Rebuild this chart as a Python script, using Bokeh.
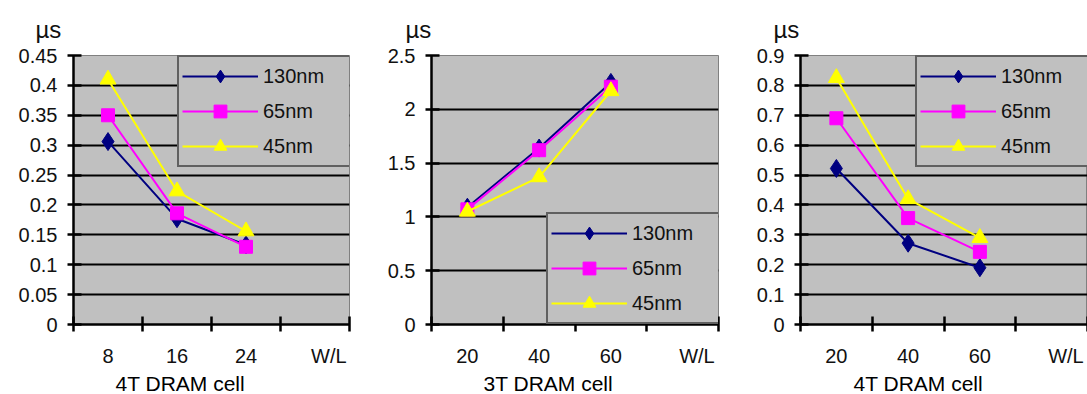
from bokeh.plotting import figure
from bokeh.models import Range1d, FixedTicker, Legend, LegendItem, Title
from bokeh.layouts import row
from bokeh.embed import file_html
from bokeh.resources import INLINE

# ---------------- data ----------------
SERIES = ["130nm", "65nm", "45nm"]

P1_CATS = ["8", "16", "24"]
P1_130 = [0.306, 0.177, 0.133]
P1_65 = [0.350, 0.186, 0.130]
P1_45 = [0.410, 0.223, 0.156]
P1_YTICKS = [0, 0.05, 0.1, 0.15, 0.2, 0.25, 0.3, 0.35, 0.4, 0.45]
P1_YLABELS = ["0", "0.05", "0.1", "0.15", "0.2", "0.25", "0.3", "0.35", "0.4", "0.45"]
P1_TITLE = "4T DRAM cell"

P2_CATS = ["20", "40", "60"]
P2_130 = [1.09, 1.64, 2.25]
P2_65 = [1.07, 1.62, 2.21]
P2_45 = [1.05, 1.37, 2.17]
P2_YTICKS = [0, 0.5, 1, 1.5, 2, 2.5]
P2_YLABELS = ["0", "0.5", "1", "1.5", "2", "2.5"]
P2_TITLE = "3T DRAM cell"

P3_CATS = ["20", "40", "60"]
P3_130 = [0.522, 0.272, 0.190]
P3_65 = [0.690, 0.356, 0.243]
P3_45 = [0.825, 0.420, 0.290]
P3_YTICKS = [0, 0.1, 0.2, 0.3, 0.4, 0.5, 0.6, 0.7, 0.8, 0.9]
P3_YLABELS = ["0", "0.1", "0.2", "0.3", "0.4", "0.5", "0.6", "0.7", "0.8", "0.9"]
P3_TITLE = "4T DRAM cell"

UNIT = "µs"
XNAME = "W/L"

# ---------------- styles ----------------
COLORS = ["#000080", "#FF00FF", "#FFFF00"]
MARKERS = ["diamond", "square", "triangle"]
MSIZES = [18, 13, 16]
FONT = "Liberation Sans"
BG = "#C0C0C0"
TXT = "#111111"


def make_panel(cats, series_vals, yticks, ylabels, title, width, left, right,
               legend_xy, legend_w, unit_dx, title_dx):
    n_slots = len(cats) + 1
    ymax = yticks[-1]
    p = figure(width=width, height=394, output_backend="svg", toolbar_location=None,
               x_range=Range1d(0, n_slots), y_range=Range1d(0, ymax),
               min_border_left=left, min_border_right=right,
               min_border_top=54, min_border_bottom=68)
    p.background_fill_color = BG
    p.border_fill_color = "white"
    p.outline_line_color = "#808080"
    p.outline_line_width = 1

    xs = [i + 0.5 for i in range(len(cats))]
    name_x = n_slots - 0.3

    # x axis: category labels at slot centres, tick marks at slot boundaries
    xa = p.xaxis[0]
    xa.ticker = FixedTicker(ticks=xs + [name_x], minor_ticks=list(range(n_slots + 1)))
    overrides = {x: c for x, c in zip(xs, cats)}
    overrides[name_x] = XNAME
    xa.major_label_overrides = overrides
    xa.major_tick_line_color = None
    xa.major_tick_in = 0
    xa.major_tick_out = 0
    xa.minor_tick_line_color = "black"
    xa.minor_tick_line_width = 2.5
    xa.minor_tick_in = 8
    xa.minor_tick_out = 7
    xa.axis_line_color = "black"
    xa.axis_line_width = 2.5
    xa.major_label_standoff = 13
    xa.major_label_text_font = FONT
    xa.major_label_text_font_size = "20px"
    xa.major_label_text_color = TXT

    ya = p.yaxis[0]
    ya.ticker = FixedTicker(ticks=yticks, minor_ticks=[])
    ya.major_label_overrides = {t: l for t, l in zip(yticks, ylabels)}
    ya.major_tick_line_color = "black"
    ya.major_tick_line_width = 2.5
    ya.major_tick_in = 8
    ya.major_tick_out = 6
    ya.minor_tick_line_color = None
    ya.axis_line_color = "black"
    ya.axis_line_width = 2.5
    ya.major_label_standoff = 10
    ya.major_label_text_font = FONT
    ya.major_label_text_font_size = "20px"
    ya.major_label_text_color = TXT

    p.xgrid.grid_line_color = None
    p.ygrid.ticker = FixedTicker(ticks=yticks[1:-1])
    p.ygrid.grid_line_color = "black"
    p.ygrid.grid_line_width = 2

    items = []
    for name, vals, col, mk, ms in zip(SERIES, series_vals, COLORS, MARKERS, MSIZES):
        lr = p.line(xs, vals, line_color=col, line_width=2)
        mr = p.scatter(xs, vals, marker=mk, size=ms, fill_color=col, line_color=col)
        items.append(LegendItem(label=name, renderers=[lr, mr]))

    leg = Legend(items=items, location=legend_xy, orientation="vertical",
                 padding=3, spacing=3, glyph_height=32, glyph_width=76,
                 label_standoff=5, label_width=legend_w, label_height=32,
                 margin=0,
                 background_fill_color=BG, background_fill_alpha=1.0,
                 border_line_color="black", border_line_width=2,
                 label_text_font=FONT, label_text_font_size="20px",
                 label_text_color=TXT)
    p.add_layout(leg, "center")

    p.add_layout(Title(text=UNIT, align="left", offset=unit_dx, standoff=0, padding=13,
                       text_font=FONT, text_font_size="24px", text_font_style="normal",
                       text_color=TXT), "above")
    p.add_layout(Title(text=title, align="left", offset=title_dx, standoff=0,
                       text_font=FONT, text_font_size="21px", text_font_style="normal",
                       text_color="black"), "below")
    return p


p1 = make_panel(P1_CATS, [P1_130, P1_65, P1_45], P1_YTICKS, P1_YLABELS, P1_TITLE,
                360, 73, 11, (104, 157), 86, -51, 42)
p2 = make_panel(P2_CATS, [P2_130, P2_65, P2_45], P2_YTICKS, P2_YLABELS, P2_TITLE,
                367, 71, 9, (115, 0), 85, -39, 52)
p3 = make_panel(P3_CATS, [P3_130, P3_65, P3_45], P3_YTICKS, P3_YLABELS, P3_TITLE,
                360, 73, 0, (115, 157), 86, -40, 53)

layout = row(p1, p2, p3, spacing=0)
open("out.html", "w").write(file_html(layout, INLINE))
